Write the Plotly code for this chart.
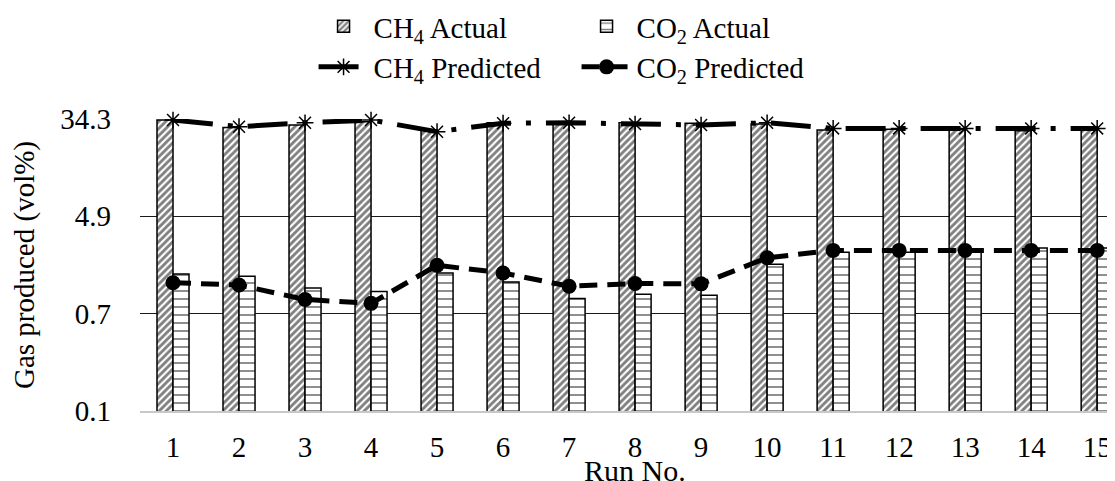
import plotly.graph_objects as go
import math

runs = list(range(1, 16))
ch4_actual = [33.6, 29.0, 30.4, 32.4, 27.5, 31.8, 31.5, 31.8, 31.5, 31.0, 27.5, 27.9, 27.9, 27.1, 28.3]
co2_actual = [1.55, 1.48, 1.17, 1.09, 1.58, 1.32, 0.95, 1.03, 1.01, 1.88, 2.39, 2.39, 2.39, 2.60, 2.60]
ch4_pred = [33.6, 29.4, 31.8, 33.6, 26.6, 31.5, 31.8, 31.0, 30.4, 31.8, 28.4, 28.4, 28.4, 28.4, 28.4]
co2_pred = [1.30, 1.24, 0.93, 0.86, 1.84, 1.58, 1.21, 1.28, 1.27, 2.14, 2.48, 2.48, 2.48, 2.48, 2.48]
y_ticks = [0.1, 0.7, 4.9, 34.3]
y_ticktext = ["0.1", "0.7", "4.9", "34.3"]
x_title = "Run No."

FONT = "Liberation Serif, Times New Roman, serif"
FS = 29

fig = go.Figure()
fig.add_trace(go.Bar(
    x=runs, y=ch4_actual, name="CH<sub>4</sub> Actual", legend="legend",
    marker=dict(color="white", line=dict(color="black", width=1.5),
                pattern=dict(shape="/", fgcolor="black", bgcolor="white", size=5, solidity=0.58)),
))
fig.add_trace(go.Bar(
    x=runs, y=co2_actual, name="CO<sub>2</sub> Actual", legend="legend",
    marker=dict(color="white", line=dict(color="black", width=1.5),
                pattern=dict(shape="-", fgcolor="black", bgcolor="white", size=8, solidity=0.22)),
))
fig.add_trace(go.Scatter(
    x=runs, y=ch4_pred, name="CH<sub>4</sub> Predicted", legend="legend2", mode="lines+markers",
    line=dict(color="black", width=5, dash="40px,15px,5px,15px"),
    marker=dict(symbol="asterisk-open", size=14, color="black", line=dict(color="black", width=1.5)),
    cliponaxis=False,
))
fig.add_trace(go.Scatter(
    x=runs, y=co2_pred, name="CO<sub>2</sub> Predicted", legend="legend2", mode="lines+markers",
    line=dict(color="black", width=5, dash="18px,10px"),
    marker=dict(symbol="circle", size=15, color="black"),
    cliponaxis=False,
))

fig.add_annotation(
    text=x_title, xref="x", x=8, yref="paper", y=-0.205, yanchor="middle",
    showarrow=False, font=dict(family=FONT, size=30, color="black"),
)

fig.update_layout(
    width=1107, height=473,
    margin=dict(l=132, r=0, t=111, b=70, autoexpand=False),
    paper_bgcolor="white", plot_bgcolor="white",
    font=dict(family=FONT, size=FS, color="black"),
    barmode="group", bargap=0.515, bargroupgap=0,
    showlegend=True,
    legend=dict(orientation="h", x=0.178, xanchor="left", y=1.317, yanchor="middle",
                entrywidth=198, entrywidthmode="pixels", itemwidth=50,
                font=dict(family=FONT, size=FS), bgcolor="rgba(0,0,0,0)", traceorder="normal"),
    legend2=dict(orientation="h", x=0.178, xanchor="left", y=1.178, yanchor="middle",
                 entrywidth=198, entrywidthmode="pixels", itemwidth=50,
                 font=dict(family=FONT, size=FS), bgcolor="rgba(0,0,0,0)", traceorder="normal"),
    xaxis=dict(
        range=[0.5, 15.27], tickmode="array", tickvals=runs, ticktext=[str(r) for r in runs],
        showgrid=False, showline=True, linecolor="#c8c8c8", linewidth=2, ticks="",
        ticklabelstandoff=9, zeroline=False,
    ),
    yaxis=dict(
        type="log", range=[-1, math.log10(34.3)], tickmode="array", tickvals=y_ticks, ticktext=y_ticktext,
        showgrid=True, gridcolor="#1a1a1a", gridwidth=1.3, showline=False, ticks="",
        ticklabelstandoff=28, zeroline=False,
        title=dict(text="Gas produced (vol%)", standoff=24, font=dict(family=FONT, size=FS)),
    ),
)

fig.write_html("out.html")
